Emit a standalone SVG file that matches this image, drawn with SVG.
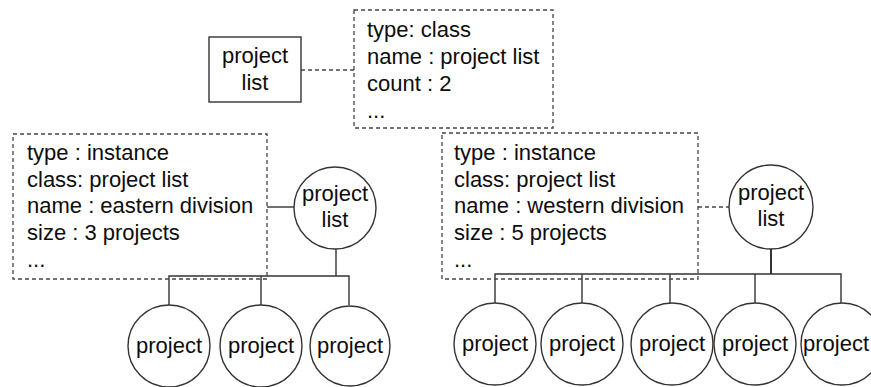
<svg xmlns="http://www.w3.org/2000/svg" width="871" height="387" viewBox="0 0 871 387">
<style>
text{font-family:"Liberation Sans",Arial,sans-serif;font-size:22px;fill:#0d0d0d}
.c{text-anchor:middle}
.dash{fill:none;stroke:#444;stroke-width:1.3;stroke-dasharray:4 3}
.solid{fill:none;stroke:#333;stroke-width:1.4}
.node{fill:#fff;stroke:#333;stroke-width:1.4}
</style>
<rect width="871" height="387" fill="#fff"/>
<g id="connectors">
<line class="dash" x1="301" y1="70" x2="354" y2="70"/>
<line class="solid" x1="267" y1="207" x2="294" y2="207"/>
<line class="dash" x1="698" y1="207" x2="729" y2="207"/>
<line class="solid" x1="336" y1="249" x2="336" y2="276"/>
<polyline class="solid" points="169,305 169,276 349,276 349,305"/>
<line class="solid" x1="261" y1="276" x2="261" y2="305"/>
<line class="solid" x1="771" y1="249" x2="771" y2="274" style="stroke-width:2"/>
<polyline class="solid" points="495,303 495,274 841,274 841,303"/>
<line class="solid" x1="582" y1="274" x2="582" y2="303"/>
<line class="solid" x1="670" y1="274" x2="670" y2="303"/>
<line class="solid" x1="755" y1="274" x2="755" y2="303"/>
</g>
<g id="class-node">
<rect class="node" x="209" y="37" width="92" height="65"/>
<text class="c" x="255" y="63">project</text>
<text class="c" x="255" y="90">list</text>
</g>
<g id="class-info">
<rect class="dash" x="354" y="10" width="199" height="118"/>
<text x="367" y="37">type: class</text>
<text x="367" y="64">name : project list</text>
<text x="367" y="91">count : 2</text>
<text x="367" y="118">...</text>
</g>
<g id="eastern-info">
<rect class="dash" x="13" y="134" width="254" height="145"/>
<text x="27" y="160">type : instance</text>
<text x="27" y="187">class: project list</text>
<text x="27" y="213">name : eastern division</text>
<text x="27" y="240">size : 3 projects</text>
<text x="27" y="267">...</text>
</g>
<g id="western-info">
<rect class="dash" x="442" y="133" width="256" height="146"/>
<text x="454" y="160">type : instance</text>
<text x="454" y="187">class: project list</text>
<text x="454" y="213">name : western division</text>
<text x="454" y="240">size : 5 projects</text>
<text x="454" y="267">...</text>
</g>
<g id="eastern-list">
<circle class="node" cx="335" cy="208" r="41"/>
<text class="c" x="335" y="201">project</text>
<text class="c" x="335" y="227">list</text>
</g>
<g id="western-list">
<circle class="node" cx="771" cy="207" r="42"/>
<text class="c" x="771" y="200">project</text>
<text class="c" x="771" y="226">list</text>
</g>
<g id="e-project-1"><circle class="node" cx="169" cy="346" r="41"/><text class="c" x="169" y="353">project</text></g>
<g id="e-project-2"><circle class="node" cx="261" cy="346" r="41"/><text class="c" x="261" y="353">project</text></g>
<g id="e-project-3"><circle class="node" cx="350" cy="346" r="40"/><text class="c" x="350" y="353">project</text></g>
<g id="w-project-1"><circle class="node" cx="495" cy="344" r="41"/><text class="c" x="495" y="351">project</text></g>
<g id="w-project-2"><circle class="node" cx="582" cy="344" r="41"/><text class="c" x="582" y="351">project</text></g>
<g id="w-project-3"><circle class="node" cx="672" cy="344" r="41"/><text class="c" x="672" y="351">project</text></g>
<g id="w-project-4"><circle class="node" cx="755" cy="344" r="41"/><text class="c" x="755" y="351">project</text></g>
<g id="w-project-5"><circle class="node" cx="842" cy="344" r="41"/><text class="c" x="836" y="351">project</text></g>
</svg>
